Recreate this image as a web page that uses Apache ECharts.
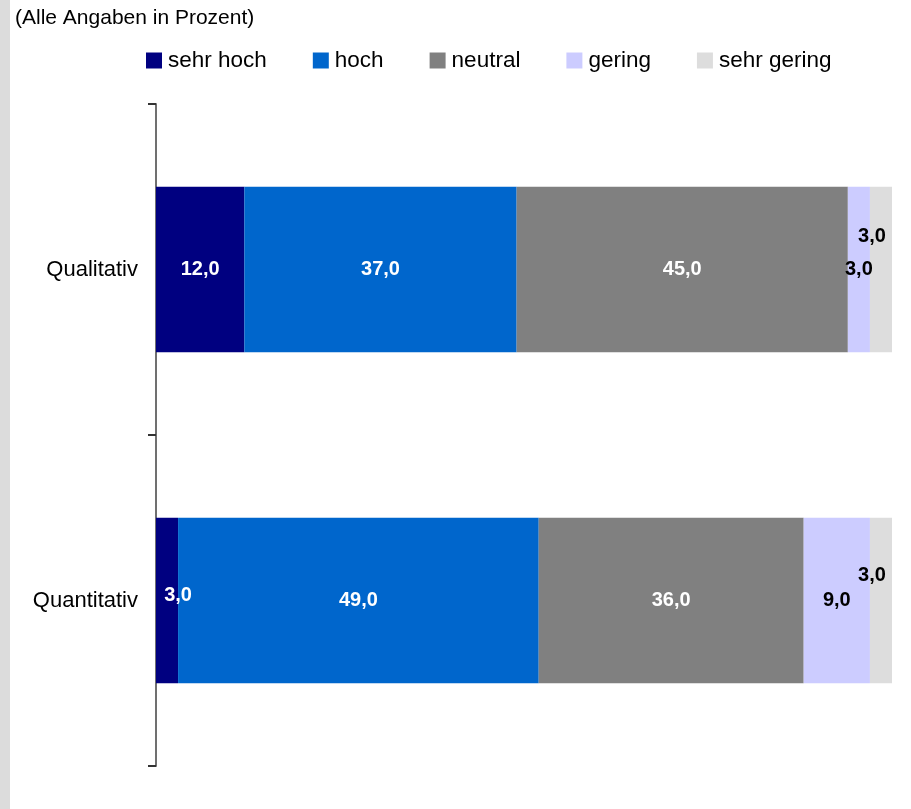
<!DOCTYPE html>
<html>
<head>
<meta charset="utf-8">
<title>Alle Angaben in Prozent</title>
<script src="https://cdn.jsdelivr.net/npm/echarts@6/dist/echarts.min.js"></script>
<style>
  html, body { margin: 0; padding: 0; background: #ffffff; }
  #chart { width: 911px; height: 809px; }
</style>
</head>
<body>
<div id="chart"></div>
<script>
// Categories (top to bottom) and stacked shares in percent
const categories = ['Qualitativ', 'Quantitativ'];
const seriesNames = ['sehr hoch', 'hoch', 'neutral', 'gering', 'sehr gering'];
const sehrHoch = [12.0, 3.0];
const hoch = [37.0, 49.0];
const neutral = [45.0, 36.0];
const gering = [3.0, 9.0];
const sehrGering = [3.0, 3.0];

const seriesValues = [sehrHoch, hoch, neutral, gering, sehrGering];

// Segment colours and label colours
const colors = ['#000080', '#0066CC', '#808080', '#CCCCFF', '#DDDDDD'];
const labelColors = ['#ffffff', '#ffffff', '#ffffff', '#000000', '#000000'];

// Small segments get their labels nudged so they stay readable
const labelOffsets = {
  'sehr hoch': [null, [11, -5]],
  'sehr gering': [[-9, -33], [-9, -25]]
};

const FONT = '"Liberation Sans", Arial, Helvetica, sans-serif';

const fmt = v => v.toFixed(1).replace('.', ',');

const series = seriesNames.map((name, si) => ({
  name: name,
  type: 'bar',
  stack: 'total',
  barWidth: '50%',
  itemStyle: { color: colors[si] },
  label: {
    show: true,
    position: 'inside',
    color: labelColors[si],
    fontFamily: FONT,
    fontWeight: 'bold',
    fontSize: 20,
    formatter: p => fmt(p.value)
  },
  data: seriesValues[si].map((v, di) => {
    const off = labelOffsets[name] && labelOffsets[name][di];
    return off ? { value: v, label: { offset: off } } : v;
  })
}));

const chart = echarts.init(document.getElementById('chart'), null, { renderer: 'canvas' });

chart.setOption({
  animation: false,
  backgroundColor: '#ffffff',
  title: {
    text: '(Alle Angaben in Prozent)',
    left: 15,
    top: 8,
    padding: 0,
    textStyle: { fontFamily: FONT, fontSize: 21, fontWeight: 'normal', color: '#000000' }
  },
  graphic: [{
    type: 'rect',
    left: 0,
    top: 0,
    shape: { width: 10, height: 809 },
    style: { fill: '#dcdcdc' },
    silent: true
  }],
  legend: {
    data: seriesNames,
    left: 146,
    top: 49,
    padding: 0,
    icon: 'rect',
    itemWidth: 16,
    itemHeight: 16,
    itemGap: 46,
    textStyle: { fontFamily: FONT, fontSize: 22.5, color: '#000000', padding: [0, 0, 0, 1] }
  },
  grid: { left: 156, right: 19, top: 104, bottom: 43, containLabel: false },
  xAxis: {
    type: 'value',
    min: 0,
    max: 100,
    show: false
  },
  yAxis: {
    type: 'category',
    inverse: true,
    data: categories,
    axisLine: { show: true, lineStyle: { color: '#707070', width: 2 } },
    axisTick: { show: true, length: 8, lineStyle: { color: '#333333', width: 2 } },
    axisLabel: { margin: 18, fontFamily: FONT, fontSize: 22, color: '#000000' },
    splitLine: { show: false }
  },
  series: series
});
</script>
</body>
</html>
